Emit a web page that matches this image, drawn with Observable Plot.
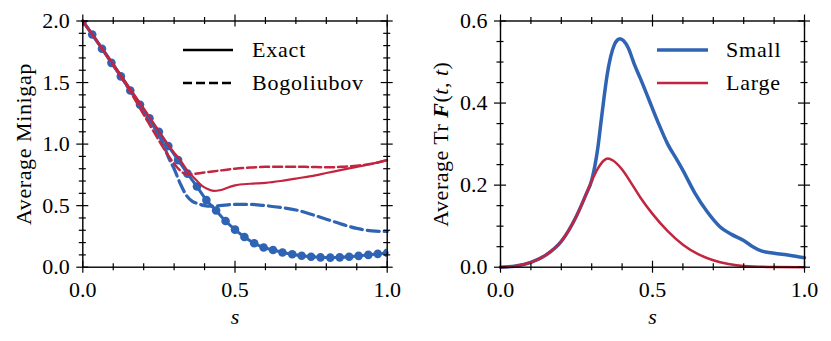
<!DOCTYPE html>
<html><head><meta charset="utf-8">
<script src="https://cdn.jsdelivr.net/npm/d3@7"></script>
<script src="https://cdn.jsdelivr.net/npm/@observablehq/plot@0.6"></script>
<style>
body{margin:0;background:#fff;}
#wrap{display:flex;width:831px;height:341px;}
</style></head><body><div id="wrap"></div>
<script>
const BLUE = "#2f63b3";
const RED = "#c3243f";
const FONT = "'Liberation Serif', 'DejaVu Serif', serif";

// ---- Left panel: Average Minigap ----
const exactSmallS = [0,0.031,0.063,0.094,0.125,0.156,0.188,0.219,0.25,0.281,0.313,0.344,0.375,0.406,0.438,0.469,0.5,0.531,0.563,0.594,0.625,0.656,0.688,0.719,0.75,0.781,0.813,0.844,0.875,0.906,0.938,0.969,1.0];
const exactSmallV = [2.0,1.89,1.775,1.66,1.55,1.435,1.32,1.21,1.10,0.985,0.87,0.76,0.655,0.545,0.46,0.375,0.305,0.245,0.195,0.16,0.14,0.12,0.105,0.093,0.085,0.08,0.078,0.08,0.085,0.092,0.1,0.108,0.117];

const bogSmallS = [0,0.1,0.15,0.2,0.25,0.265,0.28,0.3,0.32,0.34,0.36,0.38,0.4,0.42,0.45,0.5,0.55,0.6,0.65,0.7,0.75,0.8,0.85,0.9,0.95,1.0];
const bogSmallV = [2.0,1.645,1.46,1.27,1.07,1.0,0.9,0.8,0.68,0.585,0.535,0.515,0.5,0.495,0.5,0.51,0.51,0.5,0.485,0.465,0.43,0.39,0.35,0.315,0.295,0.29];

const exactLargeS = [0,0.1,0.2,0.3,0.32,0.345,0.37,0.39,0.41,0.43,0.45,0.48,0.5,0.55,0.6,0.65,0.7,0.75,0.8,0.85,0.9,0.95,1.0];
const exactLargeV = [2.0,1.65,1.29,0.93,0.87,0.78,0.715,0.665,0.635,0.62,0.625,0.65,0.665,0.678,0.685,0.70,0.72,0.74,0.765,0.79,0.815,0.84,0.87];

const bogLargeS = [0,0.1,0.15,0.2,0.25,0.28,0.3,0.32,0.335,0.35,0.4,0.45,0.5,0.55,0.6,0.65,0.7,0.75,0.8,0.85,0.9,0.95,1.0];
const bogLargeV = [2.0,1.64,1.45,1.24,1.03,0.91,0.84,0.785,0.76,0.755,0.77,0.785,0.80,0.81,0.815,0.817,0.817,0.814,0.812,0.815,0.825,0.84,0.87];

// ---- Right panel: Average Tr F(t,t) ----
const smallS = [0,0.05,0.1,0.15,0.2,0.25,0.28,0.3,0.31,0.32,0.33,0.34,0.35,0.362,0.375,0.385,0.393,0.405,0.42,0.44,0.46,0.49,0.52,0.55,0.58,0.6,0.64,0.68,0.72,0.76,0.8,0.83,0.86,0.9,0.95,1.0];
const smallV = [0,0.003,0.012,0.03,0.063,0.125,0.175,0.212,0.245,0.29,0.35,0.41,0.465,0.512,0.543,0.554,0.557,0.552,0.535,0.495,0.46,0.405,0.35,0.3,0.262,0.236,0.18,0.135,0.1,0.08,0.065,0.05,0.039,0.034,0.029,0.023];

const largeS = [0,0.05,0.1,0.15,0.2,0.25,0.28,0.3,0.32,0.34,0.353,0.37,0.4,0.43,0.46,0.5,0.55,0.6,0.65,0.7,0.75,0.8,0.9,1.0];
const largeV = [0,0.003,0.012,0.03,0.063,0.125,0.175,0.21,0.24,0.26,0.265,0.26,0.238,0.205,0.17,0.13,0.088,0.055,0.032,0.017,0.008,0.003,0.0005,0];

// ---- Ticks ----
const xMajor = [0, 0.5, 1.0];
const xMinor = [0.1,0.2,0.3,0.4,0.6,0.7,0.8,0.9];
const yMajorL = [0, 0.5, 1.0, 1.5, 2.0];
const yMinorL = [0.1,0.2,0.3,0.4,0.6,0.7,0.8,0.9,1.1,1.2,1.3,1.4,1.6,1.7,1.8,1.9];
const yMajorR = [0, 0.2, 0.4, 0.6];
const yMinorR = [0.05,0.1,0.15,0.25,0.3,0.35,0.45,0.5,0.55];

const zip = (xs, ys) => xs.map((x, i) => ({x, y: ys[i]}));

const H = 341, MT = 20.5, MB = 74.3;

function panel({width, mL, mR, yDomain, yMajor, yMinor, marks, ylabel, ylabelDx, className}) {
  const innerH = H - MT - MB, innerW = width - mL - mR;
  const tk = {stroke: "black", strokeWidth: 1.2};
  const ticks = [];
  for (const [arr, s] of [[xMajor, 6], [xMinor, 3.5]]) {
    ticks.push(Plot.tickX(arr, {x: d => d, insetTop: innerH - s, insetBottom: -s, ...tk}));
    ticks.push(Plot.tickX(arr, {x: d => d, insetTop: -s, insetBottom: innerH - s, ...tk}));
  }
  for (const [arr, s] of [[yMajor, 6], [yMinor, 3.5]]) {
    ticks.push(Plot.tickY(arr, {y: d => d, insetLeft: -s, insetRight: innerW - s, ...tk}));
    ticks.push(Plot.tickY(arr, {y: d => d, insetLeft: innerW - s, insetRight: -s, ...tk}));
  }
  return Plot.plot({
    width, height: H,
    marginLeft: mL, marginRight: mR, marginTop: MT, marginBottom: MB,
    style: {fontFamily: FONT, fontSize: "22px", background: "white", overflow: "visible", color: "black"},
    x: {domain: [0, 1]},
    y: {domain: yDomain},
    marks: [
      ...marks,
      Plot.frame({stroke: "black", strokeWidth: 1.4}),
      ...ticks,
      Plot.axisX(xMajor, {tickSize: 0, tickPadding: 14, tickFormat: d3.format(".1f"), label: null, fill: "black"}),
      Plot.axisY(yMajor, {tickSize: 0, tickPadding: 13, tickFormat: d3.format(".1f"), label: null, fill: "black"}),
      Plot.text([ylabel], {text: d => d, frameAnchor: "left", textAnchor: "middle", lineAnchor: "middle", rotate: -90, dx: ylabelDx, fill: "black", className}),
      Plot.text(["s"], {text: d => d, frameAnchor: "bottom", textAnchor: "middle", lineAnchor: "middle", dy: 49.5, fontStyle: "italic", fill: "black"})
    ]
  });
}

const left = panel({
  width: 415, mL: 82.3, mR: 28.3,
  yDomain: [0, 2],
  yMajor: yMajorL, yMinor: yMinorL,
  ylabel: "Average Minigap", ylabelDx: -59, className: "ylab-left",
  marks: [
    Plot.line(zip(exactSmallS, exactSmallV), {x: "x", y: "y", stroke: BLUE, strokeWidth: 3, curve: "monotone-x"}),
    Plot.dot(zip(exactSmallS, exactSmallV), {x: "x", y: "y", r: 4.3, fill: BLUE, clip: true}),
    Plot.line(zip(bogSmallS, bogSmallV), {x: "x", y: "y", stroke: BLUE, strokeWidth: 3.2, strokeDasharray: "12,5", curve: "monotone-x"}),
    Plot.line(zip(exactLargeS, exactLargeV), {x: "x", y: "y", stroke: RED, strokeWidth: 2.2, curve: "monotone-x"}),
    Plot.line(zip(bogLargeS, bogLargeV), {x: "x", y: "y", stroke: RED, strokeWidth: 2.5, strokeDasharray: "9,4", curve: "monotone-x"})
  ]
});

const right = panel({
  width: 416, mL: 85, mR: 27,
  yDomain: [0, 0.6],
  yMajor: yMajorR, yMinor: yMinorR,
  ylabel: "Average Tr F(t, t)", ylabelDx: -60, className: "ylab-right",
  marks: [
    Plot.line(zip(smallS, smallV), {x: "x", y: "y", stroke: BLUE, strokeWidth: 3.5, curve: "monotone-x"}),
    Plot.line(zip(largeS, largeV), {x: "x", y: "y", stroke: RED, strokeWidth: 2.5, curve: "monotone-x"})
  ]
});

// Style y labels
d3.select(left).selectAll(".ylab-left text").style("letter-spacing", "0.6px");
const rt = d3.select(right).select(".ylab-right text");
rt.text(null).style("letter-spacing", "0.5px");
rt.append("tspan").text("Average Tr ");
rt.append("tspan").style("font-weight", "bold").style("font-style", "italic").text("F");
rt.append("tspan").text("(");
rt.append("tspan").style("font-style", "italic").text("t");
rt.append("tspan").text(", ");
rt.append("tspan").style("font-style", "italic").text("t");
rt.append("tspan").text(")");

// Legends
function legend(svg, items, x1, x2, tx) {
  const g = d3.select(svg).append("g").attr("font-family", FONT).attr("font-size", 22).attr("text-anchor", "start");
  items.forEach(it => {
    g.append("line").attr("x1", x1).attr("x2", x2).attr("y1", it.y).attr("y2", it.y)
      .attr("stroke", it.color).attr("stroke-width", it.width)
      .attr("stroke-dasharray", it.dash || null);
    g.append("text").attr("x", tx).attr("y", it.y).attr("dy", "0.32em").attr("text-anchor", "start")
      .style("letter-spacing", "0.8px").attr("fill", "black").text(it.label);
  });
}
legend(left, [
  {label: "Exact", y: 50, color: "black", width: 2.6},
  {label: "Bogoliubov", y: 83, color: "black", width: 2.6, dash: "9,4"}
], 183, 233, 252);
legend(right, [
  {label: "Small", y: 50, color: BLUE, width: 3.5},
  {label: "Large", y: 83, color: RED, width: 2.5}
], 242, 293, 311);

document.getElementById("wrap").append(left, right);
</script></body></html>
